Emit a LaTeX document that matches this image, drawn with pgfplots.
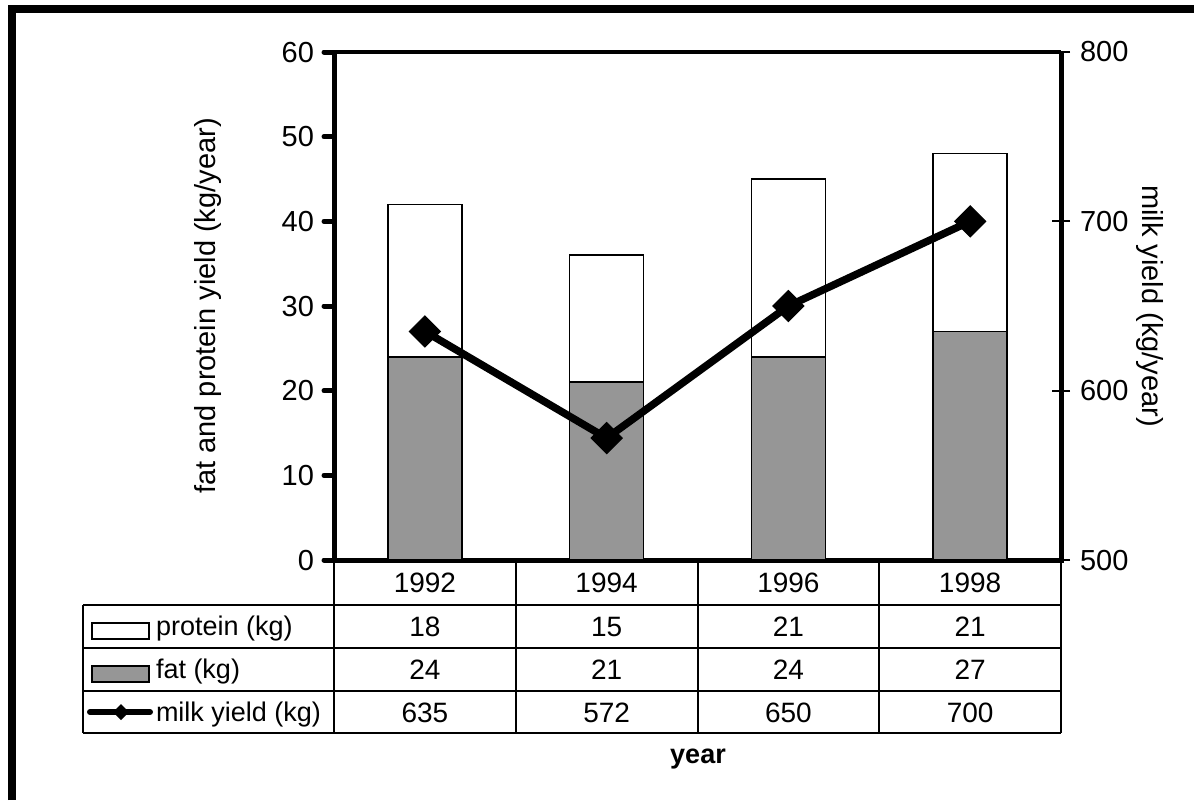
\documentclass[border=0pt]{standalone}
\usepackage{fontspec}
\setmainfont{Liberation Sans}
\usepackage{pgfplots}
\pgfplotsset{compat=1.18}
\definecolor{fatgray}{RGB}{150,150,150}

\begin{document}
\fontsize{14.5bp}{17bp}\selectfont
\begin{tikzpicture}
% frame of the picture (pixel units, y downwards)
\begin{scope}[x=0.5bp,y=-0.5bp]
\path[use as bounding box] (0,0) rectangle (1194,800);
\draw[line width=4bp] (12,800) -- (12,9) -- (1194,9);
\end{scope}

% left axis: stacked bars
\begin{axis}[
    at={(167bp,-280bp)}, anchor=south west,
    scale only axis, width=363.5bp, height=254bp,
    xmin=0.5, xmax=4.5, ymin=0, ymax=60,
    xtick=\empty, ytick={0,10,...,60}, ytick pos=left,
    ybar stacked, bar width=37bp,
    axis line style={draw=none},
    tick align=outside, major tick length=5bp,
    ytick style={line width=2.5bp, line cap=round, black},
    /pgf/number format/assume math mode=true,
    ylabel={fat and protein yield (kg/year)},
    every axis y label/.style={at={(rel axis cs:0,0.5)}, xshift=-63bp, rotate=90, anchor=center},
    clip=false
]
\addplot[fill=fatgray, draw=black, line width=0.75bp] coordinates {(1,24) (2,21) (3,24) (4,27)};
\addplot[fill=white, draw=black, line width=0.75bp] coordinates {(1,18) (2,15) (3,21) (4,21)};
\draw[line width=1.75bp] (rel axis cs:0,1) -- (rel axis cs:1,1);
\draw[line width=2.5bp] (rel axis cs:0,1) -- (rel axis cs:0,0) -- (rel axis cs:1,0) -- (rel axis cs:1,1);
\end{axis}

% right axis: milk yield
\begin{axis}[
    at={(167bp,-280bp)}, anchor=south west,
    scale only axis, width=363.5bp, height=254bp,
    xmin=0.5, xmax=4.5, ymin=500, ymax=800,
    ytick={500,600,700,800},
    axis x line=none, axis y line*=right,
    y axis line style={line width=2.5bp, -},
    tick align=center, major tick length=9bp,
    ytick style={line width=1bp, black},
    /pgf/number format/assume math mode=true,
    ylabel={milk yield (kg/year)},
    every axis y label/.style={at={(rel axis cs:1,0.5)}, xshift=44.5bp, rotate=-90, anchor=center},
    clip=false
]
\addplot[black, line width=3.75bp, mark=square*, mark size=5.5bp,
    mark options={rotate=45, line width=0.5bp}]
    coordinates {(1,635) (2,572) (3,650) (4,700)};
\end{axis}

% data table below the plot
\begin{scope}[x=0.5bp,y=-0.5bp, line width=1bp]
\foreach \y in {605,648,691,733} \draw (83,\y) -- (1061,\y);
\draw (83,605) -- (83,733);
\foreach \x in {334,515.75,697.5,879.25,1061} \draw (\x,560) -- (\x,733);
\begin{scope}[font=\fontsize{14bp}{16bp}\selectfont]
\foreach \x/\yr/\p/\f/\m in {424.9/1992/18/24/635, 606.6/1994/15/21/572,
                             788.4/1996/21/24/650, 970.1/1998/21/27/700} {
  \node at (\x,583) {\yr};
  \node at (\x,627) {\p};
  \node at (\x,670) {\f};
  \node at (\x,713) {\m};
}
\end{scope}
\draw[line width=0.75bp, fill=white] (92,623) rectangle (149,639);
\draw[line width=0.75bp, fill=fatgray] (92,666) rectangle (149,682);
\draw[line width=3bp, line cap=round] (90,712) -- (150,712);
\fill (121,704) -- (129,712) -- (121,720) -- (113,712) -- cycle;
\begin{scope}[font=\fontsize{13.5bp}{16bp}\selectfont]
\node[anchor=west, inner sep=0pt] at (155,629) {protein (kg)};
\node[anchor=west, inner sep=0pt] at (155,672) {fat (kg)};
\node[anchor=west, inner sep=0pt] at (155,715) {milk yield (kg)};
\node[font=\fontsize{13.5bp}{16bp}\selectfont\bfseries] at (698,759) {year};
\end{scope}
\end{scope}
\end{tikzpicture}
\end{document}
